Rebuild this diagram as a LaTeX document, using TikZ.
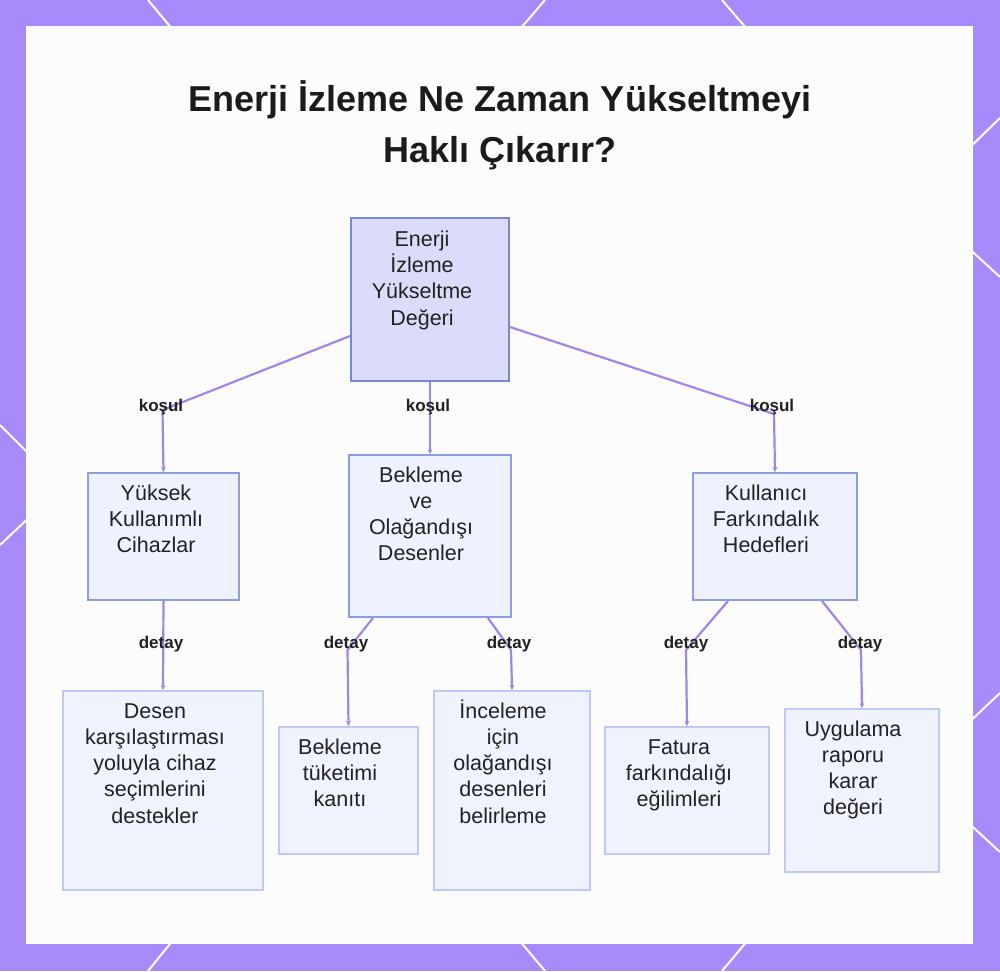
\documentclass[tikz,border=0pt]{standalone}
\usepackage{fontspec}
\setmainfont{Liberation Sans}
\usetikzlibrary{arrows.meta}
\definecolor{frame}{RGB}{167,139,250}
\definecolor{panel}{RGB}{252,252,252}
\definecolor{rootfill}{RGB}{218,220,250}
\definecolor{rootdraw}{RGB}{122,134,214}
\definecolor{midfill}{RGB}{238,242,254}
\definecolor{middraw}{RGB}{140,158,224}
\definecolor{leaffill}{RGB}{240,243,254}
\definecolor{leafdraw}{RGB}{190,202,242}
\definecolor{edgecol}{RGB}{162,134,230}
\definecolor{ink}{RGB}{34,34,34}
\newcommand{\mlines}[1]{\begin{tabular}[t]{@{}c@{}}#1\end{tabular}}
\begin{document}
\begin{tikzpicture}[x=1pt,y=-1pt,
  hexline/.style={draw=white,line width=2pt},
  box/.style={anchor=north west,inner sep=0pt,line width=2pt},
  rootbox/.style={box,draw=rootdraw,fill=rootfill},
  midbox/.style={box,draw=middraw,fill=midfill},
  leafbox/.style={box,draw=leafdraw,fill=leaffill},
  txt/.style={anchor=base,inner sep=0pt,text=ink,font=\fontsize{21.5}{26.3}\selectfont},
  lbl/.style={inner sep=0pt,text=ink,font=\fontsize{17}{20}\selectfont\bfseries},
  edge/.style={draw=edgecol,line width=2.2pt,-{Stealth[length=5pt,width=5pt]}},
  titlefont/.style={font=\fontsize{36}{50}\selectfont\bfseries,text=ink!80!black}
]
\useasboundingbox (0,0) rectangle (1000,971);
\fill[frame] (0,0) rectangle (1000,971);
% hexagon pattern lines on the frame
\draw[hexline] (148,0) -- (178,36);
\draw[hexline] (545,0) -- (514,36);
\draw[hexline] (722,0) -- (753,36);
\draw[hexline] (178,934) -- (148,971);
\draw[hexline] (514,934) -- (545,971);
\draw[hexline] (753,934) -- (722,971);
\draw[hexline] (963,154) -- (1000,118);
\draw[hexline] (963,243) -- (1000,277);
\draw[hexline] (963,728) -- (1000,693);
\draw[hexline] (963,818) -- (1000,852);
\draw[hexline] (0,425) -- (36,461);
\draw[hexline] (36,511) -- (0,545);
% panel
\fill[panel] (26,26) rectangle (973,944);
% title
\node[titlefont,anchor=base] (title1) at (500,112) {Enerji İzleme Ne Zaman Yükseltmeyi};
\node[titlefont,anchor=base] (title2) at (500,162) {Haklı Çıkarır?};
% boxes
\node[rootbox,minimum width=158pt,minimum height=163pt] (root) at (350,217) {};
\node[midbox,minimum width=151pt,minimum height=127pt] (yuk) at (87,472) {};
\node[midbox,minimum width=162pt,minimum height=162pt] (bek) at (348,454) {};
\node[midbox,minimum width=164pt,minimum height=127pt] (kul) at (692,472) {};
\node[leafbox,minimum width=200pt,minimum height=199pt] (des) at (62,690) {};
\node[leafbox,minimum width=139pt,minimum height=127pt] (btk) at (278,726) {};
\node[leafbox,minimum width=156pt,minimum height=199pt] (inc) at (433,690) {};
\node[leafbox,minimum width=164pt,minimum height=127pt] (fat) at (604,726) {};
\node[leafbox,minimum width=154pt,minimum height=163pt] (uyg) at (784,708) {};
% texts
\node[txt] (roott) at (422,246) {\mlines{Enerji\\İzleme\\Yükseltme\\Değeri}};
\node[txt] (yukt) at (156,500) {\mlines{Yüksek\\Kullanımlı\\Cihazlar}};
\node[txt] (bekt) at (421,482) {\mlines{Bekleme\\ve\\Olağandışı\\Desenler}};
\node[txt] (kult) at (766,500) {\mlines{Kullanıcı\\Farkındalık\\Hedefleri}};
\node[txt] (dest) at (155,718) {\mlines{Desen\\karşılaştırması\\yoluyla cihaz\\seçimlerini\\destekler}};
\node[txt] (btkt) at (340,754) {\mlines{Bekleme\\tüketimi\\kanıtı}};
\node[txt] (inct) at (503,718) {\mlines{İnceleme\\için\\olağandışı\\desenleri\\belirleme}};
\node[txt] (fatt) at (679,754) {\mlines{Fatura\\farkındalığı\\eğilimleri}};
\node[txt] (uygt) at (853,736) {\mlines{Uygulama\\raporu\\karar\\değeri}};
% bend points
\coordinate (k1) at (162.5,410);
\coordinate (k2) at (429,410);
\coordinate (k3) at (774,414);
\coordinate (d1) at (162.5,648);
\coordinate (d2) at (347.5,650);
\coordinate (d3) at (511,650);
\coordinate (d4) at (686,650);
\coordinate (d5) at (861,650);
% edges
\draw[edge] ([yshift=-36.5pt]root.west) -- (k1) -- (yuk.north);
\draw[edge] (root.south) -- (bek.north);
\draw[edge] ([yshift=-27.5pt]root.east) -- (k3) -- (kul.north);
\draw[edge] (yuk.south) -- (des.north);
\draw[edge] ([xshift=-57pt]bek.south) -- (d2) -- (btk.north);
\draw[edge] ([xshift=58pt]bek.south) -- (d3) -- (inc.north);
\draw[edge] ([xshift=-47pt]kul.south) -- (d4) -- (fat.north);
\draw[edge] ([xshift=47pt]kul.south) -- (d5) -- (uyg.north);
% labels
\node[lbl] (l1) at (161,407) {koşul};
\node[lbl] (l2) at (428,407) {koşul};
\node[lbl] (l3) at (772,407) {koşul};
\node[lbl] (l4) at (161,644) {detay};
\node[lbl] (l5) at (346,644) {detay};
\node[lbl] (l6) at (509,644) {detay};
\node[lbl] (l7) at (686,644) {detay};
\node[lbl] (l8) at (860,644) {detay};
\end{tikzpicture}
\end{document}
